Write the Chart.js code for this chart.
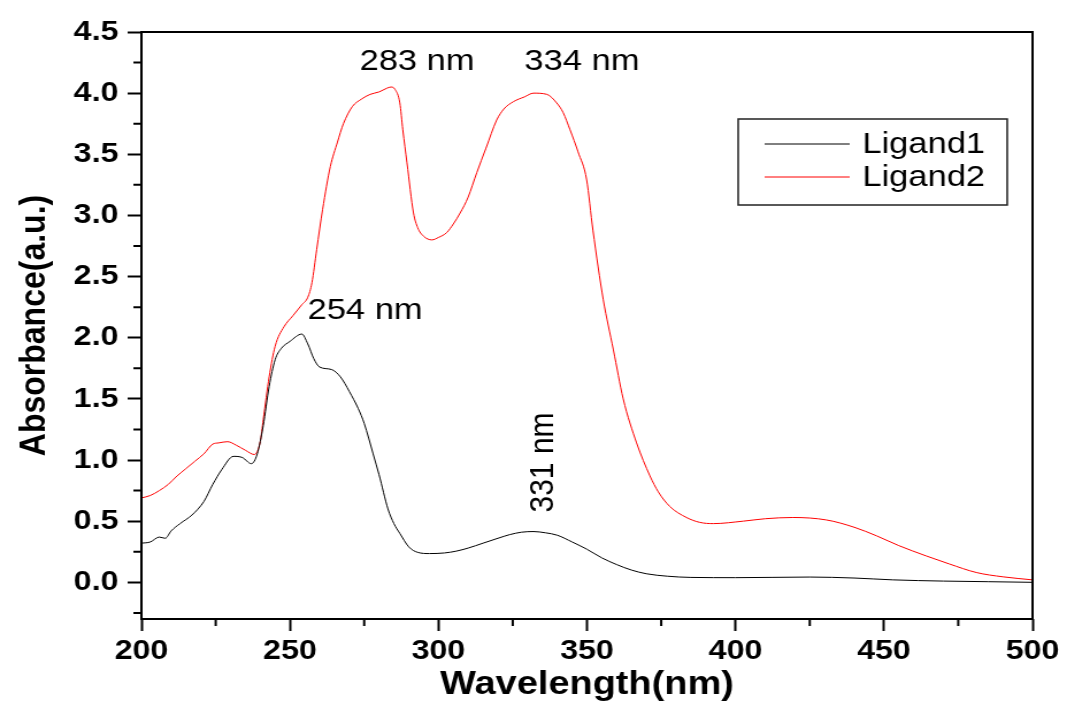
<!DOCTYPE html>
<html>
<head>
<meta charset="utf-8">
<title>Absorbance spectra</title>
<script src="https://cdn.jsdelivr.net/npm/chart.js@4.4.1/dist/chart.umd.min.js"></script>
<style>
  html, body { margin: 0; padding: 0; background: #fff; }
  #spectra { display: block; }
</style>
</head>
<body>
<!-- the original figure is stretched sideways, so the canvas is drawn narrower and widened by its style -->
<canvas id="spectra" width="928" height="719" style="width:1067px;height:719px"></canvas>
<script>
// Ligand1 (black)
const wavelength1 = [200, 203, 206, 208, 210, 213, 217, 221, 224, 227, 231, 234, 237, 239, 241, 243, 245, 247, 250, 254,
    256, 258, 260, 264, 267, 270, 273, 275, 278, 280, 283, 285, 287, 290, 293, 297, 302, 306, 310, 315,
    320, 324, 328, 332, 336, 340, 345, 350, 355, 360, 365, 370, 377, 385, 400, 425, 440, 453, 470, 485, 500];
const ligand1 = [0.32, 0.33, 0.37, 0.36, 0.42, 0.48, 0.55, 0.66, 0.80, 0.92, 1.03, 1.02, 0.97, 1.05, 1.28, 1.60, 1.82, 1.91, 1.97, 2.03,
    1.95, 1.83, 1.76, 1.74, 1.68, 1.56, 1.42, 1.30, 1.05, 0.88, 0.60, 0.48, 0.40, 0.29, 0.245, 0.235, 0.24, 0.255, 0.28, 0.32,
    0.36, 0.39, 0.41, 0.415, 0.405, 0.385, 0.33, 0.27, 0.20, 0.145, 0.10, 0.07, 0.05, 0.04, 0.038, 0.043, 0.035, 0.02, 0.01, 0.005, 0.0];

// Ligand2 (red)
const wavelength2 = [200, 203, 206, 209, 212, 215, 218, 221, 224, 226, 229, 232, 235, 238, 240, 241, 243, 245, 248, 251,
    254, 256, 257.4, 259, 261, 263.6, 266, 268, 271, 274, 277, 280, 282.6, 284, 285.4, 287, 288, 289.4, 291.6, 293,
    295, 297.8, 300, 302.8, 305, 307.3, 310, 312.9, 316, 319.6, 322, 325.2, 329, 332, 336.5, 339.8, 342, 344.3, 347, 349.9,
    352, 355.5, 358.9, 362.2, 366.7, 371.2, 374, 377.9, 383.5, 388, 392.5, 402.6, 410, 419.4, 430.6, 440, 447.5, 455, 464.3, 472,
    481.1, 490, 500];
const ligand2 = [0.69, 0.71, 0.75, 0.80, 0.87, 0.93, 0.99, 1.05, 1.13, 1.14, 1.15, 1.12, 1.08, 1.045, 1.15, 1.33, 1.68, 1.93, 2.09, 2.18,
    2.27, 2.33, 2.45, 2.72, 3.05, 3.40, 3.60, 3.75, 3.89, 3.95, 3.99, 4.01, 4.04, 4.05, 4.03, 3.92, 3.70, 3.43, 3.02, 2.90,
    2.83, 2.80, 2.82, 2.86, 2.93, 3.02, 3.15, 3.35, 3.55, 3.78, 3.87, 3.93, 3.97, 4.00, 3.99, 3.92, 3.84, 3.70, 3.52, 3.29,
    2.88, 2.31, 1.90, 1.50, 1.14, 0.87, 0.74, 0.62, 0.53, 0.49, 0.48, 0.50, 0.52, 0.53, 0.51, 0.45, 0.38, 0.30, 0.215, 0.15,
    0.08, 0.045, 0.02];

const xTicks = [200, 250, 300, 350, 400, 450, 500];
const xMinorTicks = [225, 275, 325, 375, 425, 475];
const yTicks = [0, 0.5, 1, 1.5, 2, 2.5, 3, 3.5, 4, 4.5];
const yMinorTicks = [-0.25, 0.25, 0.75, 1.25, 1.75, 2.25, 2.75, 3.25, 3.75, 4.25];

// peak labels, in data coordinates
const peakText = ['283 nm', '334 nm', '254 nm', '331 nm'];
const peakX = [292.8, 348.3, 275.3, 335.3];
const peakY = [4.26, 4.26, 2.22, 0.98];
const peakRotated = [false, false, false, true];

const FONT = "'Liberation Sans', Arial, sans-serif";
Chart.defaults.font.family = FONT;
Chart.defaults.color = '#000';

function toPoints(xs, ys) {
    return ys.map((y, i) => ({ x: xs[i], y: y }));
}

// frame round the plot, minor ticks, peak labels and the boxed legend
const extras = {
    id: 'extras',
    afterDraw(chart) {
        const ctx = chart.ctx;
        const area = chart.chartArea;
        const xs = chart.scales.x;
        const ys = chart.scales.y;
        ctx.save();

        ctx.strokeStyle = '#000';
        ctx.lineWidth = 2;
        ctx.strokeRect(area.left, area.top, area.right - area.left, area.bottom - area.top);

        ctx.lineWidth = 2;
        ctx.beginPath();
        xMinorTicks.forEach(v => {
            const px = xs.getPixelForValue(v);
            ctx.moveTo(px, area.bottom);
            ctx.lineTo(px, area.bottom + 7);
        });
        yMinorTicks.forEach(v => {
            const py = ys.getPixelForValue(v);
            ctx.moveTo(area.left, py);
            ctx.lineTo(area.left - 7, py);
        });
        ctx.stroke();

        ctx.fillStyle = '#000';
        ctx.font = '30px ' + FONT;
        ctx.textAlign = 'center';
        ctx.textBaseline = 'middle';
        peakText.forEach((t, i) => {
            const px = xs.getPixelForValue(peakX[i]);
            const py = ys.getPixelForValue(peakY[i]);
            ctx.save();
            ctx.translate(px, py);
            if (peakRotated[i]) ctx.rotate(-Math.PI / 2);
            ctx.fillText(t, 0, 0);
            ctx.restore();
        });

        // legend box, top right inside the plot
        const boxRight = area.right - 22;
        const boxLeft = boxRight - 234;
        const boxTop = area.top + 87;
        ctx.lineWidth = 1.5;
        ctx.strokeStyle = '#222';
        ctx.strokeRect(boxLeft, boxTop, boxRight - boxLeft, 86);
        ctx.textAlign = 'left';
        chart.data.datasets.forEach((ds, i) => {
            const ly = boxTop + 25 + i * 33;
            ctx.strokeStyle = ds.borderColor;
            ctx.lineWidth = 1;
            ctx.beginPath();
            ctx.moveTo(boxLeft + 23, ly);
            ctx.lineTo(boxLeft + 97, ly);
            ctx.stroke();
            ctx.fillStyle = '#000';
            ctx.fillText(ds.label, boxLeft + 108, ly + 1);
        });
        ctx.restore();
    }
};

new Chart(document.getElementById('spectra'), {
    type: 'line',
    data: {
        datasets: [{
            label: 'Ligand1',
            data: toPoints(wavelength1, ligand1),
            borderColor: '#000000',
            borderWidth: 1,
            pointRadius: 0,
            cubicInterpolationMode: 'monotone'
        }, {
            label: 'Ligand2',
            data: toPoints(wavelength2, ligand2),
            borderColor: '#ff0000',
            borderWidth: 1,
            pointRadius: 0,
            cubicInterpolationMode: 'monotone'
        }]
    },
    options: {
        responsive: false,
        animation: false,
        devicePixelRatio: 1,
        layout: { padding: { left: 0, top: 32, right: 30, bottom: 0 } },
        plugins: {
            legend: { display: false },
            tooltip: { enabled: false }
        },
        scales: {
            x: {
                type: 'linear',
                min: 200,
                max: 500,
                afterBuildTicks: s => { s.ticks = xTicks.map(v => ({ value: v })); },
                afterFit: s => { s.height = 100; },
                border: { display: false },
                grid: { drawOnChartArea: false, drawTicks: true, tickLength: 12, tickWidth: 2, tickColor: '#000' },
                ticks: {
                    padding: 3,
                    maxRotation: 0,
                    font: { size: 28, weight: 'bold' },
                    color: '#000'
                },
                title: {
                    display: true,
                    text: 'Wavelength(nm)',
                    font: { size: 33, weight: 'bold' },
                    color: '#000',
                    padding: { top: 0, bottom: 14 }
                }
            },
            y: {
                type: 'linear',
                min: -0.3,
                max: 4.5,
                afterBuildTicks: s => { s.ticks = yTicks.map(v => ({ value: v })); },
                afterFit: s => { s.width = 123; },
                border: { display: false },
                grid: { drawOnChartArea: false, drawTicks: true, tickLength: 12, tickWidth: 2, tickColor: '#000' },
                ticks: {
                    padding: 8,
                    font: { size: 28, weight: 'bold' },
                    color: '#000',
                    callback: v => Number(v).toFixed(1)
                },
                title: {
                    display: true,
                    text: 'Absorbance(a.u.)',
                    font: { size: 32, weight: 'bold' },
                    color: '#000',
                    padding: { top: 11, bottom: 0 }
                }
            }
        }
    },
    plugins: [extras]
});
</script>
</body>
</html>
